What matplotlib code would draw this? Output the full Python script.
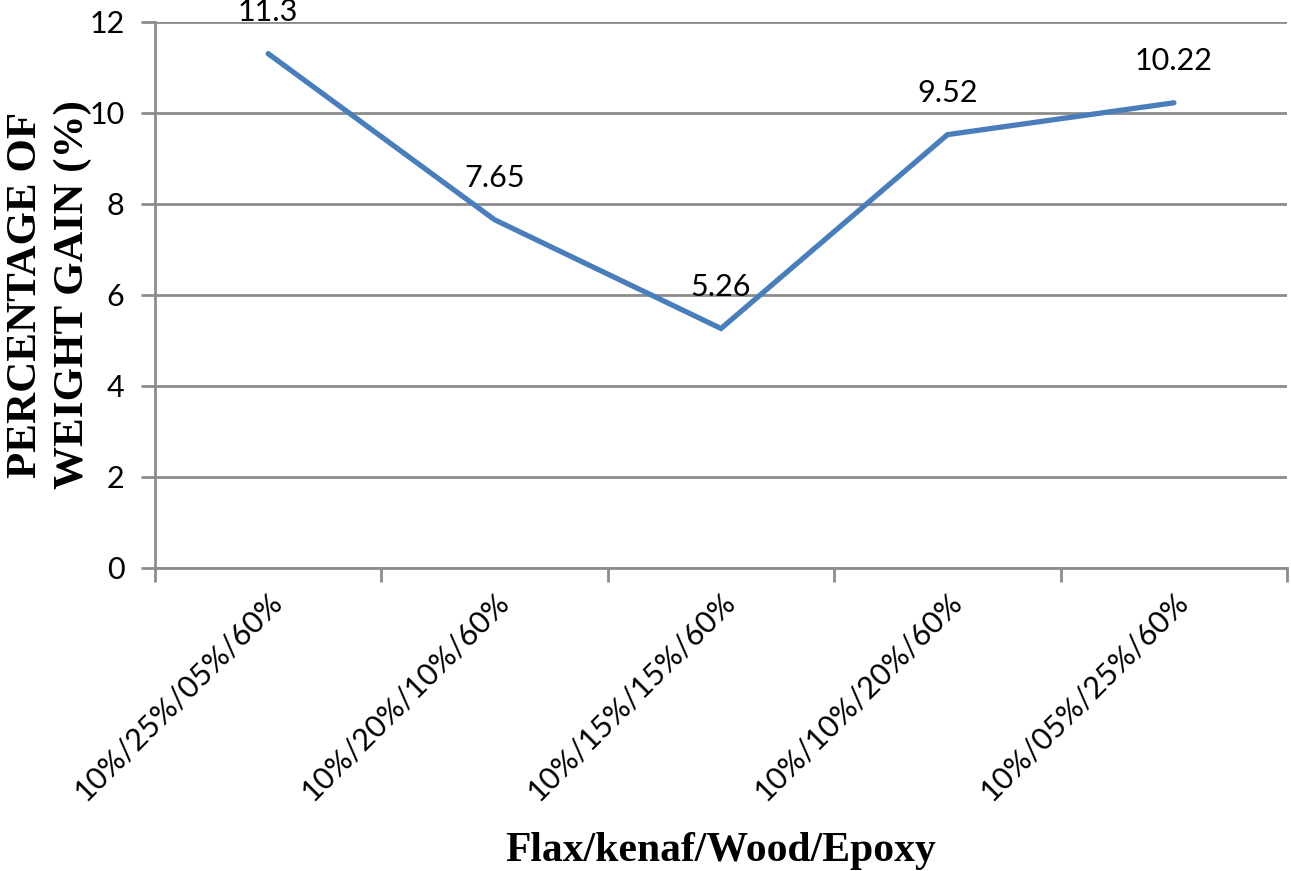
import matplotlib
matplotlib.use("Agg")
import matplotlib.pyplot as plt
import numpy as np

# composition (Flax/kenaf/Wood/Epoxy) and weight gain readings
compositions = ["10%/25%/05%/60%", "10%/20%/10%/60%", "10%/15%/15%/60%",
                "10%/10%/20%/60%", "10%/05%/25%/60%"]
weight_gain = [11.3, 7.65, 5.26, 9.52, 10.22]
value_labels = ["11.3", "7.65", "5.26", "9.52", "10.22"]
y_ticks = [0, 2, 4, 6, 8, 10, 12]

LINE_COLOR = "#4a7ebb"
GRID_COLOR = "#8c8c8c"
TICK_FONT = ["Lato", "DejaVu Sans"]
LABEL_FONT = ["Liberation Serif", "DejaVu Serif"]
TICK_SIZE = 22

fig = plt.figure(figsize=(12.91, 8.71), dpi=100)
ax = fig.add_axes([0.120, 0.348, 0.877, 0.627])

x = np.arange(len(compositions))
ax.plot(x, weight_gain, color=LINE_COLOR, linewidth=3.8, solid_capstyle="round",
        solid_joinstyle="miter", zorder=3)

for xi, yi, lab in zip(x, weight_gain, value_labels):
    ax.annotate(lab, (xi, yi), xytext=(0, 30), textcoords="offset points",
                ha="center", va="center", fontsize=TICK_SIZE, family=TICK_FONT,
                annotation_clip=False)

ax.set_xlim(-0.5, len(compositions) - 0.5)
ax.set_ylim(0, 12)
ax.set_yticks(y_ticks)
ax.set_yticklabels([str(v) for v in y_ticks], family=TICK_FONT, fontsize=TICK_SIZE)
ax.yaxis.grid(True, color=GRID_COLOR, linewidth=2)
ax.set_axisbelow(True)

# category ticks sit at the boundaries, labels at the centres
ax.set_xticks(np.arange(-0.5, len(compositions)), minor=False)
ax.set_xticklabels([])
ax.set_xticks(x, minor=True)
ax.set_xticklabels(compositions, minor=True, rotation=45, ha="right",
                   rotation_mode="anchor", family=TICK_FONT, fontsize=TICK_SIZE)
ax.tick_params(axis="x", which="minor", length=0, pad=14)
ax.tick_params(axis="x", which="major", length=10, width=2, color=GRID_COLOR)
ax.tick_params(axis="y", length=10, width=2, color=GRID_COLOR, pad=12)

for side in ["top", "right"]:
    ax.spines[side].set_visible(False)
for side in ["left", "bottom"]:
    ax.spines[side].set_color(GRID_COLOR)
    ax.spines[side].set_linewidth(2)

ax.set_ylabel("PERCENTAGE OF\nWEIGHT GAIN (%)", family=LABEL_FONT,
              fontweight="bold", fontsize=31, linespacing=1.3,
              va="center", ha="center")
ax.yaxis.set_label_coords(-0.093, 0.5)
ax.set_xlabel("Flax/kenaf/Wood/Epoxy", family=LABEL_FONT, fontweight="bold",
              fontsize=30, labelpad=19)

fig.savefig("out.png", dpi=100)
